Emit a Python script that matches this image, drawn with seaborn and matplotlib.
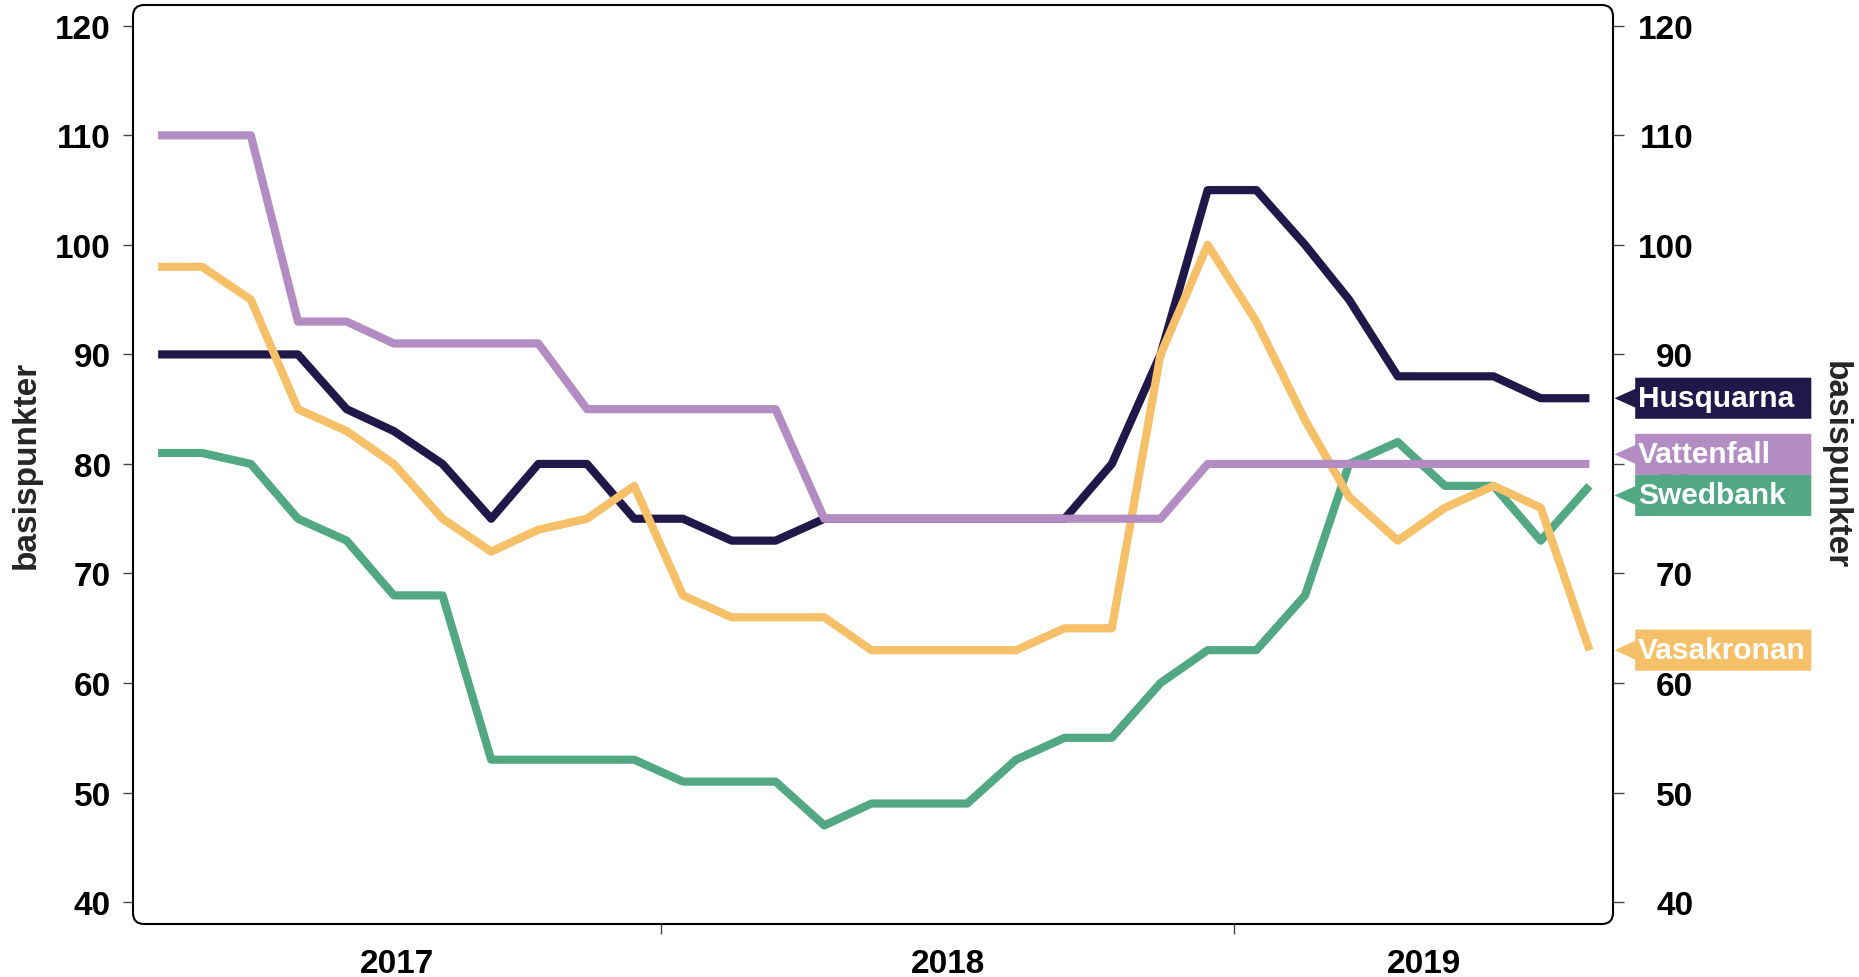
import matplotlib
matplotlib.use("Agg")

import matplotlib.dates as mdates
import matplotlib.pyplot as plt
import pandas as pd
import seaborn as sns
from matplotlib.patches import FancyBboxPatch, Polygon
from matplotlib.transforms import blended_transform_factory

# monthly observations, mid-month, Feb 2017 - Aug 2019
months = pd.date_range("2017-02-01", "2019-08-01", freq="MS") + pd.Timedelta(days=14)

husquarna = [90, 90, 90, 90, 85, 83, 80, 75, 80, 80, 75, 75, 73, 73, 75, 75,
             75, 75, 75, 75, 80, 90, 105, 105, 100, 95, 88, 88, 88, 86, 86]
vattenfall = [110, 110, 110, 93, 93, 91, 91, 91, 91, 85, 85, 85, 85, 85, 75, 75,
              75, 75, 75, 75, 75, 75, 80, 80, 80, 80, 80, 80, 80, 80, 80]
swedbank = [81, 81, 80, 75, 73, 68, 68, 53, 53, 53, 53, 51, 51, 51, 47, 49,
            49, 49, 53, 55, 55, 60, 63, 63, 68, 80, 82, 78, 78, 73, 78]
vasakronan = [98, 98, 95, 85, 83, 80, 75, 72, 74, 75, 78, 68, 66, 66, 66, 63,
              63, 63, 63, 65, 65, 90, 100, 93, 84, 77, 73, 76, 78, 76, 63]

names = ["Husquarna", "Vattenfall", "Swedbank", "Vasakronan"]
colors = {
    "Husquarna": "#21184a",
    "Vattenfall": "#b38cc3",
    "Swedbank": "#52a784",
    "Vasakronan": "#f6c068",
}
draw_order = ["Husquarna", "Swedbank", "Vasakronan", "Vattenfall"]

years = ["2017", "2018", "2019"]
yticks = list(range(40, 121, 10))

df = pd.DataFrame({
    "datum": months,
    "Husquarna": husquarna,
    "Vattenfall": vattenfall,
    "Swedbank": swedbank,
    "Vasakronan": vasakronan,
}).melt(id_vars="datum", var_name="bolag", value_name="bp")


def spread_labels(values, gap, n_iter=20):
    """Push label positions apart so tags don't overlap."""
    pos = dict(values)
    for _ in range(n_iter):
        keys = sorted(pos, key=pos.get, reverse=True)
        for a, b in zip(keys[:-1], keys[1:]):
            if pos[a] - pos[b] < gap:
                mid = (pos[a] + pos[b]) / 2
                pos[a], pos[b] = mid + gap / 2, mid - gap / 2
    return pos


sns.set_theme(style="white")
plt.rcParams["font.family"] = ["Liberation Sans", "DejaVu Sans"]
plt.rcParams["font.weight"] = "bold"

W, H = 1859, 978
fig = plt.figure(figsize=(W / 100, H / 100), dpi=100)
ax_l, ax_b, ax_w, ax_h = 133, 53, 1480, 919
ax = fig.add_axes([ax_l / W, ax_b / H, ax_w / W, ax_h / H])

sns.lineplot(
    data=df, x="datum", y="bp", hue="bolag", hue_order=draw_order,
    palette=colors, linewidth=5.9, legend=False, ax=ax,
    solid_capstyle="butt", solid_joinstyle="round",
)

x0 = pd.Timestamp("2017-01-30")
x1 = pd.Timestamp("2019-08-30")
ax.set_xlim(mdates.date2num(x0), mdates.date2num(x1))
ax.set_ylim(38, 121.9)
ax.set_xlabel("")
ax.set_ylabel("")

# year boundaries as ticks, year names centred in the visible part of each year
bounds = [pd.Timestamp(f"{y}-01-01") for y in (2018, 2019)]
edges = [x0] + bounds + [x1]
mids = [a + (b - a) / 2 for a, b in zip(edges[:-1], edges[1:])]
ax.set_xticks(mdates.date2num(bounds))
ax.set_xticklabels([])
ax.set_xticks(mdates.date2num(mids), minor=True)
ax.set_xticklabels(years, minor=True)
ax.tick_params(axis="x", which="major", bottom=True, length=7.5, width=1,
               color="#444444", direction="out")
ax.tick_params(axis="x", which="minor", bottom=True, length=0, pad=17,
               labelsize=24, labelcolor="black")

ax.set_yticks(yticks)
ax.tick_params(axis="y", left=True, length=7.2, width=1, color="#444444",
               pad=8.6, labelsize=24, labelcolor="black")
for s in ax.spines.values():
    s.set_visible(False)

# right hand axis with right-aligned labels
ax2 = ax.twinx()
ax2.set_ylim(ax.get_ylim())
ax2.set_yticks(yticks)
ax2.tick_params(axis="y", right=True, length=8, width=1, color="#444444",
                pad=49.7, labelsize=24, labelcolor="black")
plt.setp(ax2.get_yticklabels(), ha="right")
for s in ax2.spines.values():
    s.set_visible(False)

# rounded frame
frame = FancyBboxPatch(
    (0, 0), 1, 1, boxstyle="round,pad=0,rounding_size=0.0075",
    mutation_aspect=ax_w / ax_h, transform=ax.transAxes, fill=False,
    lw=1.5, ec="black", clip_on=False, zorder=5,
)
ax.add_patch(frame)

# tags at the end of each line
last = {"Husquarna": husquarna[-1], "Vattenfall": vattenfall[-1],
        "Swedbank": swedbank[-1], "Vasakronan": vasakronan[-1]}
tag_h = 3.75
tag_pos = spread_labels(last, tag_h)
trans = blended_transform_factory(ax2.transAxes, ax2.transData)
tip, base, end = 1.001, 1.015, 1.134
for name in names:
    y = tag_pos[name]
    pts = [(tip, y), (base, y + 0.85), (base, y + tag_h / 2), (end, y + tag_h / 2),
           (end, y - tag_h / 2), (base, y - tag_h / 2), (base, y - 0.85)]
    ax2.add_patch(Polygon(pts, closed=True, transform=trans, facecolor=colors[name],
                          edgecolor="none", clip_on=False, zorder=10))
    ax2.text(base + 0.002, y, name, transform=trans, color="white", fontsize=21.5,
             fontweight="bold", ha="left", va="center", zorder=11, clip_on=False)

fig.text(26 / W, 1 - 465 / H, "basispunkter", rotation=90, fontsize=24,
         fontweight="bold", ha="center", va="center")
fig.text(1835 / W, 1 - 465 / H, "basispunkter", rotation=270, fontsize=24,
         fontweight="bold", ha="center", va="center")

fig.savefig("out.png", dpi=100)
plt.close(fig)
